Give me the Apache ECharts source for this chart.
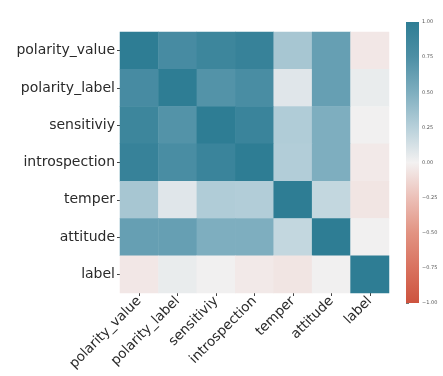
<!DOCTYPE html>
<html>
<head>
<meta charset="utf-8">
<script src="https://cdn.jsdelivr.net/npm/echarts@6/dist/echarts.min.js"></script>
<style>
  html, body { margin: 0; padding: 0; background: #ffffff; }
  #chart { width: 443px; height: 376px; }
</style>
</head>
<body>
<div id="chart"></div>
<script>
// Feature names, top row to bottom row / left column to right column
const categories = ['polarity_value', 'polarity_label', 'sensitiviy', 'introspection', 'temper', 'attitude', 'label'];

// Pairwise correlation coefficients, one row per feature
const rowPolarityValue = [1.00, 0.80, 0.88, 0.93, 0.32, 0.62, -0.05];
const rowPolarityLabel = [0.80, 1.00, 0.72, 0.78, 0.08, 0.62, 0.04];
const rowSensitiviy    = [0.88, 0.72, 1.00, 0.90, 0.28, 0.50, 0.01];
const rowIntrospection = [0.93, 0.78, 0.90, 1.00, 0.27, 0.50, -0.04];
const rowTemper        = [0.32, 0.08, 0.28, 0.27, 1.00, 0.20, -0.06];
const rowAttitude      = [0.62, 0.62, 0.50, 0.50, 0.20, 1.00, 0.01];
const rowLabel         = [-0.05, 0.04, 0.01, -0.04, -0.06, 0.01, 1.00];

const rows = [rowPolarityValue, rowPolarityLabel, rowSensitiviy, rowIntrospection, rowTemper, rowAttitude, rowLabel];

// Colour scale range and colorbar ticks
const scaleMin = -1;
const scaleMax = 1;
const tickStep = 0.25;

// Diverging palette, red (-1) through near-white (0) to teal blue (+1)
const palette = ['#cd533e', '#d9725f', '#e29382', '#ecc0b8', '#f3f1f1', '#b7d0da', '#7eaebf', '#4d8fa5', '#2e7d94'];

const cells = [];
rows.forEach((row, r) => {
  row.forEach((v, c) => cells.push([c, r, v]));
});

const chart = echarts.init(document.getElementById('chart'), null, { renderer: 'canvas' });

const fontFamily = '"DejaVu Sans", sans-serif';

chart.setOption({
  backgroundColor: '#ffffff',
  animation: false,
  grid: [
    { left: 120, top: 32, width: 269, height: 261 },
    { left: 406, top: 22, width: 13, height: 281 }
  ],
  xAxis: [
    {
      gridIndex: 0,
      type: 'category',
      data: categories,
      axisLine: { show: false },
      axisTick: { show: true, alignWithLabel: true, length: 3, lineStyle: { color: '#444' } },
      axisLabel: {
        rotate: 45, interval: 0, margin: 6,
        fontSize: 13.5, color: '#2a2a2a', fontFamily: fontFamily
      },
      splitLine: { show: false }
    },
    { gridIndex: 1, type: 'value', min: 0, max: 1, show: false }
  ],
  yAxis: [
    {
      gridIndex: 0,
      type: 'category',
      data: categories,
      inverse: true,
      axisLine: { show: false },
      axisTick: { show: true, alignWithLabel: true, length: 3, lineStyle: { color: '#444' } },
      axisLabel: {
        interval: 0, margin: 5,
        fontSize: 14, color: '#2a2a2a', fontFamily: fontFamily
      },
      splitLine: { show: false }
    },
    {
      gridIndex: 1,
      type: 'value',
      min: scaleMin, max: scaleMax, interval: tickStep,
      position: 'right',
      axisLine: { show: false },
      axisTick: { show: true, length: 3, lineStyle: { color: '#777' } },
      axisLabel: {
        margin: 3, fontSize: 5, color: '#555', fontFamily: fontFamily,
        formatter: v => (v < 0 ? '\u2212' : '') + Math.abs(v).toFixed(2)
      },
      splitLine: { show: false }
    }
  ],
  visualMap: {
    type: 'continuous',
    show: false,
    min: scaleMin,
    max: scaleMax,
    seriesIndex: 0,
    inRange: { color: palette }
  },
  series: [
    {
      type: 'heatmap',
      xAxisIndex: 0,
      yAxisIndex: 0,
      data: cells,
      itemStyle: { borderWidth: 0 },
      emphasis: { disabled: true }
    },
    {
      // carrier series for the colorbar strip
      type: 'line',
      xAxisIndex: 1,
      yAxisIndex: 1,
      data: [[0.5, 0]],
      symbol: 'none',
      lineStyle: { opacity: 0 },
      silent: true,
      markArea: {
        silent: true,
        itemStyle: {
          opacity: 1,
          color: new echarts.graphic.LinearGradient(0, 0, 0, 1,
            palette.slice().reverse().map((c, i) => ({ offset: i / (palette.length - 1), color: c })))
        },
        data: [[{ coord: [0, scaleMax] }, { coord: [1, scaleMin] }]]
      }
    }
  ]
});
</script>
</body>
</html>
